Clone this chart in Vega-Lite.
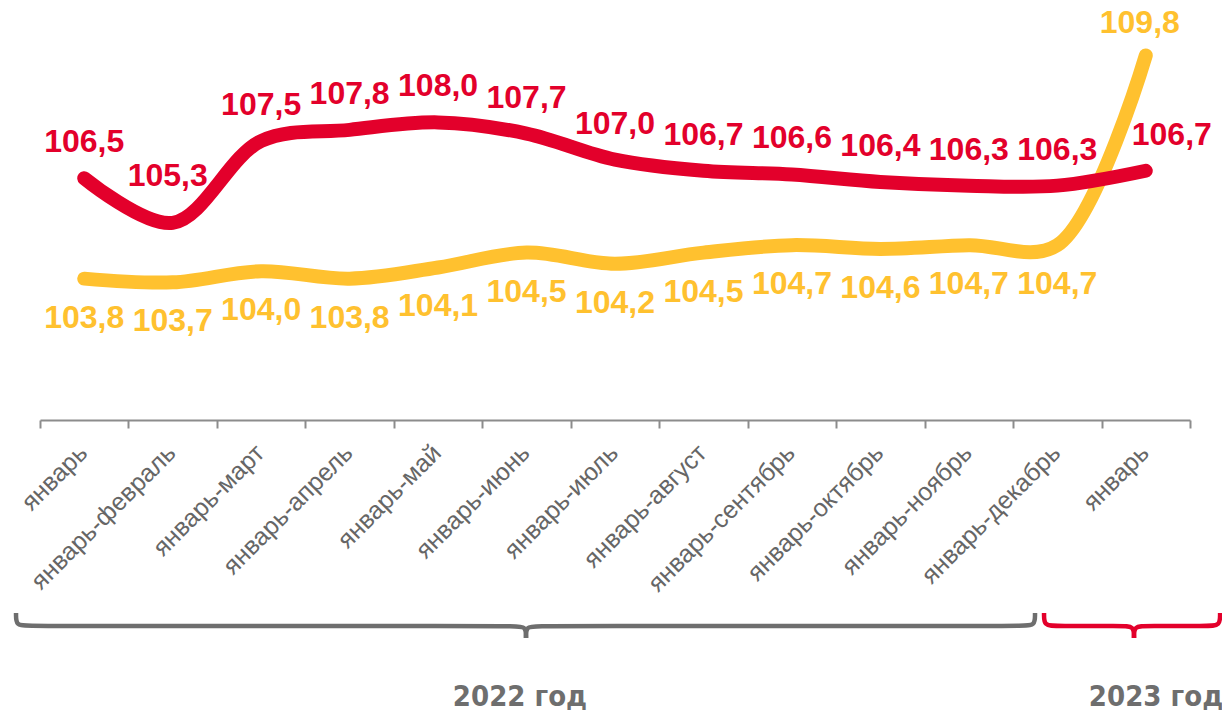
{
  "$schema": "https://vega.github.io/schema/vega-lite/v6.json",
  "width": 1150,
  "height": 372,
  "autosize": "none",
  "padding": {"left": 40, "top": 48, "right": 32, "bottom": 295},
  "background": "white",
  "config": {"view": {"stroke": null}, "font": "Liberation Sans"},
  "data": {"values": [
    {"i": 0, "s": "A", "v": 106.5}, {"i": 1, "s": "A", "v": 105.3}, {"i": 2, "s": "A", "v": 107.5}, {"i": 3, "s": "A", "v": 107.8},
    {"i": 4, "s": "A", "v": 108.0}, {"i": 5, "s": "A", "v": 107.7}, {"i": 6, "s": "A", "v": 107.0}, {"i": 7, "s": "A", "v": 106.7},
    {"i": 8, "s": "A", "v": 106.6}, {"i": 9, "s": "A", "v": 106.4}, {"i": 10, "s": "A", "v": 106.3}, {"i": 11, "s": "A", "v": 106.3},
    {"i": 12, "s": "A", "v": 106.7},
    {"i": 0, "s": "B", "v": 103.8}, {"i": 1, "s": "B", "v": 103.7}, {"i": 2, "s": "B", "v": 104.0}, {"i": 3, "s": "B", "v": 103.8},
    {"i": 4, "s": "B", "v": 104.1}, {"i": 5, "s": "B", "v": 104.5}, {"i": 6, "s": "B", "v": 104.2}, {"i": 7, "s": "B", "v": 104.5},
    {"i": 8, "s": "B", "v": 104.7}, {"i": 9, "s": "B", "v": 104.6}, {"i": 10, "s": "B", "v": 104.7}, {"i": 11, "s": "B", "v": 104.7},
    {"i": 12, "s": "B", "v": 109.8}
  ]},
  "encoding": {
    "x": {"field": "i", "type": "quantitative",
      "scale": {"domain": [-0.5, 12.5], "nice": false, "zero": false},
      "axis": {"title": null, "grid": false,
        "values": [-0.5, 0, 0.5, 1, 1.5, 2, 2.5, 3, 3.5, 4, 4.5, 5, 5.5, 6, 6.5, 7, 7.5, 8, 8.5, 9, 9.5, 10, 10.5, 11, 11.5, 12, 12.5],
        "labelExpr": "datum.value % 1 !== 0 ? '' : ['январь','январь-февраль','январь-март','январь-апрель','январь-май','январь-июнь','январь-июль','январь-август','январь-сентябрь','январь-октябрь','январь-ноябрь','январь-декабрь','январь'][datum.value]",
        "labelAngle": -45, "labelAlign": "right", "labelBaseline": "top",
        "labelFontSize": 25, "labelColor": "#666666", "labelFont": "Liberation Sans", "labelLimit": 500,
        "labelOverlap": false, "labelFlush": false, "labelBound": false, "labelPadding": 12, "labelOffset": -10,
        "domainColor": "#8c8c8c", "domainWidth": 2, "tickSize": 8, "tickWidth": 2,
        "tickColor": {"condition": {"test": "datum.value % 1 === 0", "value": "transparent"}, "value": "#8c8c8c"}
      }},
    "y": {"field": "v", "type": "quantitative", "scale": {"domain": [100, 110], "nice": false, "zero": false}, "axis": null}
  },
  "layer": [
    {"transform": [{"filter": "datum.s === 'B'"}],
     "mark": {"type": "line", "interpolate": "catmull-rom", "strokeWidth": 14, "strokeCap": "round", "strokeJoin": "round", "color": "#FFC12F", "clip": false}},
    {"transform": [{"filter": "datum.s === 'A'"}],
     "mark": {"type": "line", "interpolate": "catmull-rom", "strokeWidth": 14, "strokeCap": "round", "strokeJoin": "round", "color": "#E3002B", "clip": false}},
    {"transform": [{"filter": "datum.s === 'A' && datum.i !== 1 && datum.i < 12"}],
     "mark": {"type": "text", "font": "Liberation Sans", "fontWeight": "bold", "fontSize": 32, "color": "#E3002B", "dy": -36, "baseline": "middle",
       "text": {"expr": "replace(format(datum.v, '.1f'), '.', ',')"}}},
    {"transform": [{"filter": "datum.s === 'A' && datum.i === 1"}],
     "mark": {"type": "text", "font": "Liberation Sans", "fontWeight": "bold", "fontSize": 32, "color": "#E3002B", "dy": -47, "dx": -5, "baseline": "middle",
       "text": {"expr": "replace(format(datum.v, '.1f'), '.', ',')"}}},
    {"transform": [{"filter": "datum.s === 'A' && datum.i === 12"}],
     "mark": {"type": "text", "font": "Liberation Sans", "fontWeight": "bold", "fontSize": 32, "color": "#E3002B", "dy": -36, "dx": 26, "baseline": "middle",
       "text": {"expr": "replace(format(datum.v, '.1f'), '.', ',')"}}},
    {"transform": [{"filter": "datum.s === 'B' && datum.i < 12"}],
     "mark": {"type": "text", "font": "Liberation Sans", "fontWeight": "bold", "fontSize": 32, "color": "#FFC12F", "dy": 39, "baseline": "middle",
       "text": {"expr": "replace(format(datum.v, '.1f'), '.', ',')"}}},
    {"transform": [{"filter": "datum.s === 'B' && datum.i === 12"}],
     "mark": {"type": "text", "font": "Liberation Sans", "fontWeight": "bold", "fontSize": 32, "color": "#FFC12F", "dy": -32, "dx": -6, "baseline": "middle",
       "text": {"expr": "replace(format(datum.v, '.1f'), '.', ',')"}}},
    {"data": {"values": [
      {"h": "a", "k": 0, "bx": -0.771, "by": 94.812}, {"h": "a", "k": 1, "bx": -0.771, "by": 94.462}, {"h": "a", "k": 2, "bx": -0.635, "by": 94.462},
      {"h": "a", "k": 3, "bx": 4.858, "by": 94.462}, {"h": "a", "k": 4, "bx": 4.994, "by": 94.462}, {"h": "a", "k": 5, "bx": 4.994, "by": 94.14},
      {"h": "b", "k": 0, "bx": 4.994, "by": 94.14}, {"h": "b", "k": 1, "bx": 4.994, "by": 94.462}, {"h": "b", "k": 2, "bx": 5.13, "by": 94.462},
      {"h": "b", "k": 3, "bx": 10.612, "by": 94.462}, {"h": "b", "k": 4, "bx": 10.748, "by": 94.462}, {"h": "b", "k": 5, "bx": 10.748, "by": 94.812}
     ]},
     "mark": {"type": "line", "interpolate": "basis", "strokeWidth": 4.5, "color": "#6e6e6e", "clip": false},
     "encoding": {"x": {"field": "bx", "type": "quantitative"}, "y": {"field": "by", "type": "quantitative"}, "detail": {"field": "h"}, "order": {"field": "k"}}},
    {"data": {"values": [
      {"h": "c", "k": 0, "bx": 10.85, "by": 94.812}, {"h": "c", "k": 1, "bx": 10.85, "by": 94.462}, {"h": "c", "k": 2, "bx": 10.986, "by": 94.462},
      {"h": "c", "k": 3, "bx": 11.731, "by": 94.462}, {"h": "c", "k": 4, "bx": 11.867, "by": 94.462}, {"h": "c", "k": 5, "bx": 11.867, "by": 94.14},
      {"h": "d", "k": 0, "bx": 11.867, "by": 94.14}, {"h": "d", "k": 1, "bx": 11.867, "by": 94.462}, {"h": "d", "k": 2, "bx": 12.003, "by": 94.462},
      {"h": "d", "k": 3, "bx": 12.704, "by": 94.462}, {"h": "d", "k": 4, "bx": 12.84, "by": 94.462}, {"h": "d", "k": 5, "bx": 12.84, "by": 94.812}
     ]},
     "mark": {"type": "line", "interpolate": "basis", "strokeWidth": 4.5, "color": "#E3002B", "clip": false},
     "encoding": {"x": {"field": "bx", "type": "quantitative"}, "y": {"field": "by", "type": "quantitative"}, "detail": {"field": "h"}, "order": {"field": "k"}}},
    {"data": {"values": [
      {"t": "2022 год", "tx": 4.926, "ty": 92.554},
      {"t": "2023 год", "tx": 12.116, "ty": 92.554}
     ]},
     "mark": {"type": "text", "font": "DejaVu Sans Condensed, Liberation Sans", "fontWeight": "bold", "fontSize": 29, "color": "#6e6e6e", "align": "center", "baseline": "middle", "clip": false},
     "encoding": {"x": {"field": "tx", "type": "quantitative"}, "y": {"field": "ty", "type": "quantitative"}, "text": {"field": "t"}}}
  ]
}
